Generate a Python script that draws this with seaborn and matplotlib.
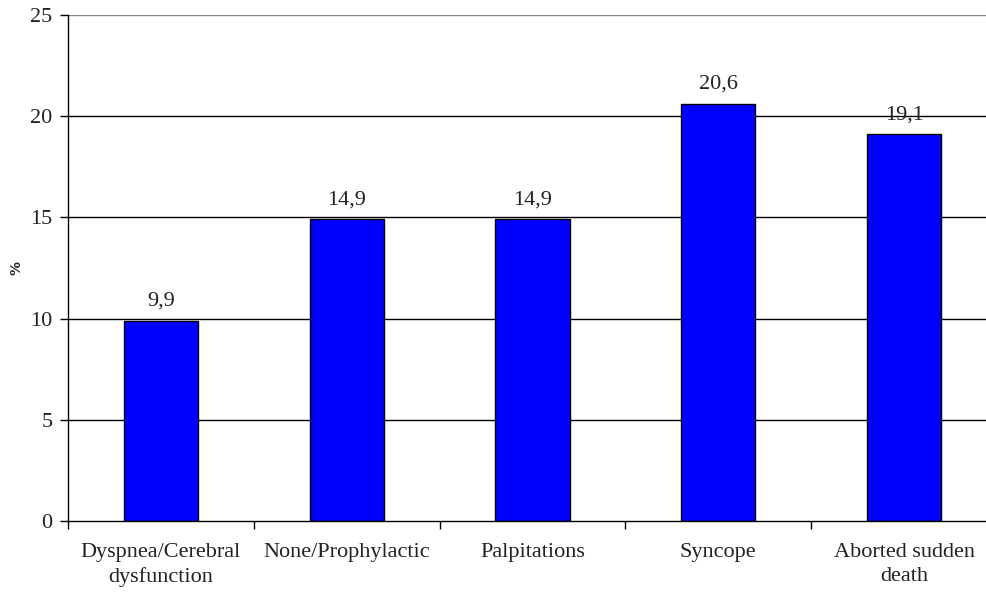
import pandas as pd
import seaborn as sns
import matplotlib.pyplot as plt
from matplotlib.ticker import FixedLocator

# data
categories = ['Dyspnea/Cerebral\ndysfunction', 'None/Prophylactic',
              'Palpitations', 'Syncope', 'Aborted sudden\ndeath']
values = [9.9, 14.9, 14.9, 20.6, 19.1]
labels = ['9,9', '14,9', '14,9', '20,6', '19,1']

df = pd.DataFrame({'cat': categories, 'val': values})

sns.set_theme(style='white')
plt.rcParams['font.family'] = ['Liberation Serif', 'DejaVu Serif']

fig = plt.figure(figsize=(9.87, 5.94), dpi=100)
# right edge of plot area runs slightly past the image, like the original
ax = fig.add_axes([68 / 987, (594 - 521) / 594, (997 - 68) / 987, (521 - 15) / 594])

sns.barplot(data=df, x='cat', y='val', color='#0000ff', width=0.40,
            edgecolor='black', linewidth=1.0, saturation=1, ax=ax)

ax.set_xlim(-0.5, len(categories) - 0.5)
ax.set_ylim(0, 25)
ax.set_yticks([0, 5, 10, 15, 20, 25])
ax.set_yticklabels(['0', '5', '10', '15', '20', '25'], fontsize=16, color='#222222')

# gridlines drawn manually so the top one can be grey
for y in [5, 10, 15, 20]:
    ax.axhline(y, color='black', linewidth=1.0, zorder=0)
ax.axhline(25, color='#888888', linewidth=1.0, zorder=0)

ax.set_xticks(range(len(categories)))
ax.set_xticklabels(categories, fontsize=16, color='#222222', linespacing=1.35)
ax.tick_params(axis='x', which='major', length=0, pad=16)
ax.xaxis.set_minor_locator(FixedLocator([i - 0.5 for i in range(len(categories) + 1)]))
ax.tick_params(axis='x', which='minor', length=6, width=1, color='black', direction='out', bottom=True)
ax.tick_params(axis='y', length=6, width=1, color='black', direction='out', left=True, pad=5)

for s in ['top', 'right']:
    ax.spines[s].set_visible(False)
for s in ['left', 'bottom']:
    ax.spines[s].set_color('black')
    ax.spines[s].set_linewidth(1.0)

ax.set_xlabel('')
ax.set_ylabel('%', fontsize=10, fontweight='bold', family='DejaVu Sans')
ax.yaxis.set_label_coords(-44 / 929, 0.5)

for i, (v, t) in enumerate(zip(values, labels)):
    ax.text(i, v + 0.5, t, ha='center', va='bottom', fontsize=16, color='#222222')

plt.savefig('out.png', dpi=100)
